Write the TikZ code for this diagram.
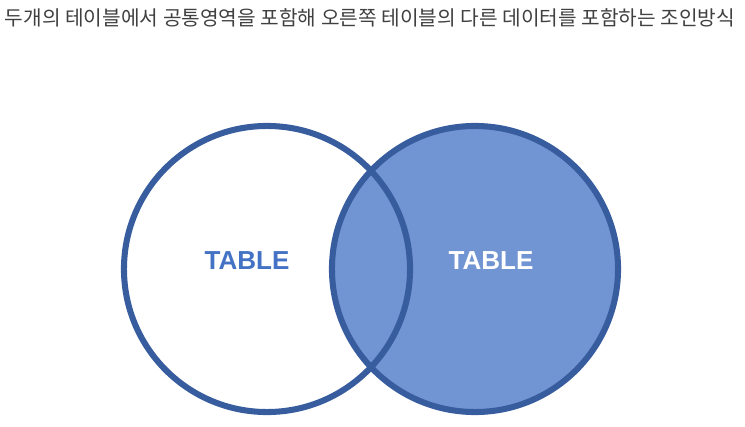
\documentclass[tikz,border=0pt]{standalone}
\usepackage{fontspec}
\setmainfont{Liberation Sans}
\newfontfamily\krfont{Noto Sans CJK KR}
\definecolor{rim}{HTML}{385D9E}
\definecolor{joinfill}{HTML}{7194D2}
\definecolor{tabletext}{HTML}{4472C4}
\definecolor{caption}{HTML}{404040}

\begin{document}
\begin{tikzpicture}[
  x=0.025cm, y=-0.025cm,
  tableset/.style={circle, draw=rim, line width=4.3pt, minimum size=7.15cm, inner sep=0pt},
  tname/.style={font=\fontsize{18.5}{20}\selectfont\bfseries, inner sep=0pt}
]
  \useasboundingbox (0,0) rectangle (745,427);
  \node[text=caption, font=\krfont\fontsize{14.4}{16}\selectfont, inner sep=0pt] (title) at (370,18)
        {두개의 테이블에서 공통영역을 포함해 오른쪽 테이블의 다른 데이터를 포함하는 조인방식};

  \node[tableset, fill=joinfill] (right) at (475,269) {};
  \node[tableset] (left) at (267,269) {};

  \node[tname, text=tabletext] (lname) at (247,261) {TABLE};
  \node[tname, text=white]     (rname) at (491,261) {TABLE};
\end{tikzpicture}
\end{document}
